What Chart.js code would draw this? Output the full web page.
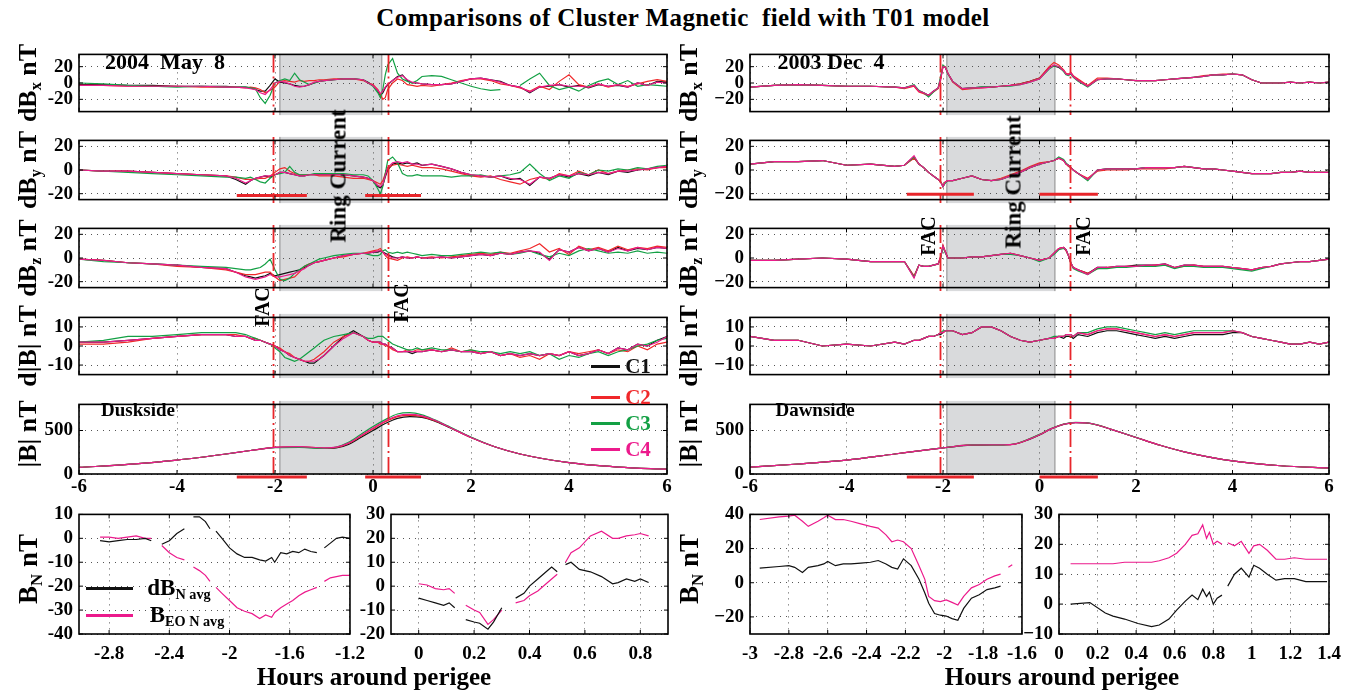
<!DOCTYPE html>
<html>
<head>
<meta charset="utf-8">
<script src="https://cdn.jsdelivr.net/npm/chart.js@4.4.1/dist/chart.umd.min.js"></script>
<style>
  body { margin: 0; background: #fff; width: 1359px; height: 692px; position: relative; overflow: hidden;
         font-family: "Liberation Serif", "Times New Roman", serif; font-weight: bold; color: #000; }
  .t { position: absolute; white-space: pre; line-height: 1; transform: translate(-50%, -50%); }
  .r { position: absolute; white-space: pre; line-height: 1; transform: translate(-50%, -50%) rotate(-90deg); }
  .box { position: absolute; }
  .leg { position: absolute; height: 3px; }
  sub { font-size: 62%; vertical-align: -0.3em; line-height: 0; }
</style>
</head>
<body>
<script>
// ---------- Duskside (2004 May 8), hours around perigee ----------
const duskTime = [-6,-5.5,-5,-4.5,-4,-3.5,-3, -2.8,-2.6,
  -2.5,-2.4,-2.3,-2.2,-2.1,-2,-1.9,-1.8,-1.7,-1.6,-1.5,-1.4,-1.3,-1.2,-1.1,-1,
  -0.8,-0.6,-0.4,-0.2, -0.1,0,0.1,0.15,0.2,0.25,0.3, 0.4,0.5,0.6,0.7,0.8,0.9,1,
  1.2,1.4,1.6,1.8,2,2.2,2.4,2.6,2.8,3,3.2,3.4,3.6,3.8,4,4.2,4.4,4.6,4.8,5,5.2,5.4,5.6,5.8,6];

const duskBxC1 = [-2,-2,-3,-3,-4,-4,-4, -5,-5, -6,-8,-10,-10,-3,5,1,0,-1,-3,-4,-4,-2,0,2,3, 4,5,5,4, 1,-3,-10,-15,-12,-6,-2, 3,8,10,3,0,0,-1,
  -2,-2,-1,2,5,6,4,2,-3,-5,-12,-5,-4,-2,-5,-3,-6,-2,-4,-3,-5,0,-3,2,1];
const duskBxC2 = [-3,-3,-4,-4,-4,-5,-5, -5,-6, -5,-6,-8,-12,-9,-5,2,3,2,1,3,2,3,3,4,4, 5,5,5,3, 0,-2,-8,-14,-20,-18,-8, 0,5,3,-2,-3,-4,-3,
  -4,-2,0,3,5,5,3,-1,-3,-6,-10,-4,-8,2,10,-2,-5,-1,-5,-2,-4,-1,2,4,2];
const duskBxC3 = [0,-1,-3,-4,-5,-4,-5, -5,-5, -6,-7,-18,-25,-15,0,3,5,3,12,4,1,-2,0,2,3, 4,5,5,4, 0,-4,-12,-18,-8,10,22, 30,12,5,2,0,3,8,
  9,8,4,0,-4,-7,-9,-8,null,-3,5,12,-3,-8,-5,-10,-3,2,5,-2,3,-4,-2,-3,-4];
const duskBxC4 = [-3,-3,-4,-4,-4,-4,-5, -5,-6, -7,-8,-12,-14,-8,0,2,1,-1,-4,-5,-4,-2,1,2,3, 4,5,5,4, 0,-3,-9,-13,-10,-5,-1, 3,7,9,4,1,0,-1,
  -2,-2,-1,2,5,6,4,1,-3,-5,-11,-5,-3,-2,-4,-4,-5,-1,-4,-2,-5,0,-3,1,0];

const duskByC1 = [0,-1,-1,-2,-3,-4,-5, -8,-12, -9,-7,-6,-5,-6,-4,-2,-2,-3,-4,-5,-5,-4,-4,-4,-4, -4,-4,-5,-6, -7,-9,-14,-15,-13,-6,0, 5,6,5,6,5,6,4,
  5,3,1,-2,-4,-5,-6,-5,-8,-7,-13,-6,-7,-4,-6,-3,-5,-2,-4,-1,-2,0,1,2,3];
const duskByC2 = [0,-1,-1,-2,-3,-4,-5, -6,-8, -8,-8,-7,-7,-5,-2,1,2,-1,-3,-4,-4,-4,-4,-5,-5, -5,-6,-7,-7, -8,-9,-11,-12,-9,-3,2, 4,5,4,3,4,3,2,
  2,1,-1,-3,-5,-6,-5,-8,-10,-12,-8,-6,-8,-3,-5,-1,-4,0,-3,-1,0,1,0,2,2];
const duskByC3 = [0,-1,-2,-3,-4,-5,-6, -6,-7, -6,-8,-10,-11,-7,-4,-3,-2,3,-2,-4,-4,-4,-3,-3,-3, -3,-3,-4,-4, -5,-9,-16,-20,-14,-3,8, 11,6,-3,-5,-5,-4,-5,
  -5,-5,-6,-5,-5,-4,-6,-5,-4,-2,5,-3,-9,-5,-7,-2,-4,0,-1,1,0,2,1,3,4];
const duskByC4 = [0,-1,-1,-2,-3,-4,-5, -7,-11, -9,-7,-6,-5,-5,-4,-2,-2,-3,-4,-5,-5,-4,-4,-4,-4, -4,-4,-5,-6, -7,-9,-13,-14,-12,-5,2, 6,7,6,7,5,5,4,
  5,3,1,-2,-4,-5,-6,-5,-7,-8,-12,-6,-7,-4,-5,-3,-4,-2,-3,-1,-1,0,1,2,3];

const duskBzC1 = [-1,-2,-4,-5,-6,-8,-9, -12,-15, -16,-17,-16,-15,-13,-15,-14,-13,-12,-11,-10,-8,-6,-4,-3,-2, 0,2,3,4, 4,5,5,6,5,4,3, 1,0,1,0,0,1,0,
  0,1,0,1,2,3,2,4,3,5,6,4,-1,7,5,9,6,8,5,9,6,8,7,9,8];
const duskBzC2 = [-1,-2,-4,-5,-7,-8,-10, -12,-14, -14,-14,-13,-12,-12,-16,-19,-18,-17,-16,-12,-7,-5,-4,-3,-2, 0,1,3,4, 5,6,7,8,5,2,0, -1,-2,0,1,0,1,0,
  1,0,1,2,3,4,3,5,4,6,8,12,5,8,3,10,7,9,6,10,7,9,8,10,9];
const duskBzC3 = [-1,-3,-4,-5,-6,-7,-8, -9,-10, -10,-9,-8,-5,-1,-10,-18,-19,-17,-13,-10,-7,-5,-3,-1,0, 2,3,4,4, 3,2,2,3,6,7,5, 4,5,4,5,4,3,2,
  3,2,2,3,4,5,4,5,3,4,6,3,1,4,2,6,8,6,4,5,4,6,4,5,4];
const duskBzC4 = [-1,-2,-4,-5,-6,-8,-9, -12,-16, -17,-18,-17,-16,-14,-16,-16,-15,-14,-13,-11,-9,-6,-4,-3,-2, 0,2,3,4, 4,5,6,6,5,3,2, 0,0,1,0,0,1,0,
  0,1,0,1,2,3,2,4,3,5,6,5,-2,7,5,9,6,8,5,8,6,9,7,9,8];

const duskBmC1 = [2,2,3,4,5,6,6, 5,5, 4,3,3,2,1,0,-2,-3,-5,-6,-7,-8,-9,-9,-7,-5, 0,5,8,5, 3,2,2,2,1,1,0, -1,-3,-3,-3,-4,-3,-3,
  -2,-3,-2,-3,-3,-4,-3,-5,-4,-5,-4,-5,-4,-5,-3,-5,-4,-2,-4,-1,-2,1,0,3,5];
const duskBmC2 = [1,1,2,4,5,6,6, 6,5, 4,4,3,2,1,0,-1,-3,-4,-6,-7,-8,-8,-7,-5,-3, 2,5,7,5, 3,2,2,1,1,0,0, -2,-3,-3,-2,-3,-2,-2,
  -2,-3,-1,-3,-2,-4,-3,-5,-4,-6,-5,-7,-4,-5,-3,-4,-3,-2,-4,-2,-3,0,-2,1,2];
const duskBmC3 = [2,3,5,5,6,7,7, 7,6, 5,4,3,2,1,-1,-3,-6,-7,-8,-7,-5,-3,-1,1,3, 5,6,7,5, 4,4,5,5,5,4,3, 1,0,-1,-2,-2,-1,-2,
  -1,-2,-2,-3,-2,-3,-3,-4,-3,-4,-3,-5,-4,-7,-5,-6,-4,-3,-5,-3,-2,0,1,3,4];
const duskBmC4 = [2,2,3,4,5,6,6, 5,5, 4,3,3,2,1,0,-2,-3,-5,-6,-7,-8,-8,-8,-7,-5, 0,4,7,5, 3,2,2,2,1,1,0, -1,-3,-3,-3,-3,-3,-3,
  -2,-3,-2,-3,-3,-4,-3,-5,-4,-5,-4,-5,-4,-5,-3,-5,-4,-2,-4,-1,-2,1,0,2,5];

const totalTime = [-6,-5,-4,-3,-2.5,-2,-1.5,-1,-0.75,-0.5,-0.25,0,0.25,0.5,0.75,1,1.25,1.5,2,2.5,3,4,5,6];
const duskBtC1 = [75,110,160,230,270,305,310,295,300,340,420,500,580,640,660,650,610,550,420,310,230,130,80,55];
const duskBtC2 = [75,110,160,230,270,305,312,298,305,350,435,520,600,660,675,660,615,555,420,310,230,130,80,55];
const duskBtC3 = [75,110,160,230,270,302,305,295,310,365,455,545,625,690,705,680,625,560,425,310,230,130,80,55];
const duskBtC4 = [75,110,160,230,270,306,315,300,308,355,440,530,610,670,685,668,620,555,420,310,230,130,80,55];

// ---------- Dawnside (2003 Dec 4) ----------
const dawnTime = [-6,-5.5,-5,-4.5,-4,-3.5,-3, -2.8,-2.6, -2.5,-2.4,-2.3,-2.2,-2.1, -2.05,-2,-1.95,-1.9,
  -1.8,-1.6,-1.4,-1.2,-1,-0.8,-0.6,-0.4,-0.2,0, 0.2,0.3,0.4,0.5,0.55,0.6,0.65,0.7,0.8,
  1,1.2,1.4,1.6,1.8,2,2.2,2.4,2.6,2.8,3,3.2,3.4,3.6,3.8,4,4.2,4.4,4.6,4.8,5,5.2,5.4,5.6,5.8,6];

const dawnBxC1 = [-5,-3,-2,-3,-4,-4,-5, -6,-3, -10,-12,-15,-10,-6, 5,20,19,12, 2,-7,-6,-5,-5,-4,-3,-1,2,6, 19,21,19,15,11,10,12,8,3,
  -4,4,5,5,4,3,3,3,4,5,6,7,8,10,10,11,10,4,0,0,0,1,0,1,0,1];
const dawnBxC2 = [-5,-3,-2,-3,-4,-4,-5, -7,-4, -11,-13,-16,-11,-7, 3,21,20,12, 1,-8,-7,-6,-5,-4,-3,-1,2,6, 20,25,22,16,12,11,13,9,5,
  -3,6,6,5,4,3,3,3,4,5,6,7,9,10,11,11,10,4,0,0,0,1,0,1,0,1];
const dawnBxC3 = [-5,-3,-2,-3,-4,-4,-5, -6,-2, -9,-12,-17,-11,-6, 8,22,19,11, 2,-7,-6,-5,-5,-4,-4,-2,1,5, 17,21,20,14,10,9,11,7,2,
  -5,4,5,5,4,3,3,3,4,5,6,7,8,10,10,11,10,4,0,0,0,1,0,1,0,1];
const dawnBxC4 = [-5,-3,-2,-3,-4,-4,-5, -6,-3, -10,-12,-15,-10,-6, 5,20,19,12, 2,-7,-6,-6,-5,-4,-3,-2,1,5, 18,22,20,15,11,10,12,8,3,
  -4,4,5,5,4,3,3,3,4,5,6,7,8,10,10,11,10,4,0,0,0,1,0,1,0,1];

const dawnByC1 = [5,7,7,8,4,5,3, 4,11, 5,2,-2,-5,-8, -10,-14,-10,-9, -9,-7,-5,-8,-9,-8,-5,-2,2,5, 7,8,10,8,5,4,2,0,-3,
  -8,0,1,1,1,1,2,2,2,2,3,2,1,1,0,-1,-2,-3,-3,-3,-2,-2,-1,-2,-2,-2];
const dawnByC2 = [5,7,7,8,4,5,3, 4,10, 5,2,-2,-5,-8, -10,-13,-10,-9, -9,-7,-5,-8,-9,-7,-4,-1,3,6, 7,8,10,8,5,3,2,0,-3,
  -7,-1,0,0,0,1,1,1,1,2,3,2,1,1,0,-1,-2,-3,-3,-3,-2,-2,-1,-2,-2,-2];
const dawnByC3 = [5,7,7,8,4,5,3, 4,11, 5,2,-2,-5,-8, -10,-14,-11,-9, -9,-7,-5,-8,-9,-8,-5,-2,2,5, 7,8,11,9,6,4,2,0,-3,
  -9,0,1,1,1,1,2,2,2,2,3,2,1,1,0,-1,-2,-3,-3,-3,-2,-2,-1,-2,-2,-2];
const dawnByC4 = [5,7,7,8,4,5,3, 4,12, 5,2,-2,-5,-8, -10,-14,-10,-9, -9,-7,-5,-8,-9,-8,-5,-2,2,5, 7,8,10,8,5,4,2,0,-3,
  -8,0,1,1,1,1,2,2,2,2,3,2,1,1,0,-1,-2,-3,-3,-3,-2,-2,-1,-2,-2,-2];

const dawnBzC1 = [-2,-2,-1,0,-1,-3,-3, -3,-16, -6,-7,-7,-6,-5, 0,10,5,0, 0,0,1,1,2,3,4,2,0,-2, 0,4,8,9,7,2,-4,-8,-10,
  -13,-8,-8,-7,-7,-6,-6,-6,-5,-8,-6,-6,-7,-7,-7,-8,-9,-10,-8,-7,-5,-4,-3,-3,-2,-1];
const dawnBzC2 = [-2,-2,-1,0,-1,-3,-3, -3,-15, -6,-7,-7,-6,-5, 1,11,5,0, 0,0,1,1,2,3,4,2,0,-2, 0,4,8,9,6,2,-5,-8,-10,
  -13,-9,-8,-8,-7,-7,-7,-6,-6,-8,-7,-6,-7,-7,-7,-8,-9,-10,-8,-7,-5,-4,-3,-3,-2,-1];
const dawnBzC3 = [-2,-2,-1,0,-1,-3,-3, -3,-16, -6,-7,-7,-6,-5, 0,9,4,0, 0,0,1,1,2,3,3,2,0,-3, 0,3,7,8,7,2,-4,-9,-11,
  -14,-9,-9,-8,-8,-7,-7,-7,-6,-9,-7,-7,-8,-8,-8,-9,-10,-11,-9,-7,-5,-4,-3,-3,-2,-1];
const dawnBzC4 = [-2,-2,-1,0,-1,-3,-3, -3,-17, -6,-7,-7,-6,-5, 1,10,5,0, 0,0,1,1,2,3,4,2,0,-2, 0,4,8,9,7,2,-4,-8,-10,
  -14,-8,-8,-7,-7,-7,-6,-6,-5,-8,-6,-6,-7,-7,-7,-8,-9,-10,-8,-7,-5,-4,-3,-3,-2,-1];

const dawnBmC1 = [5,3,3,0,1,0,2, 1,3, 3,4,5,5,6, 6,7,8,8, 8,6,7,10,10,8,5,3,2,3, 4,4,5,4,5,5,5,4,6,
  5,7,8,8,7,6,5,4,5,4,5,6,6,6,6,7,7,5,4,3,2,1,1,2,1,2];
const dawnBmC2 = [5,3,3,0,1,0,2, 1,3, 3,4,5,5,6, 7,7,8,8, 8,6,7,10,10,8,5,3,2,3, 4,4,5,5,6,6,6,5,7,
  6,8,9,9,8,7,6,5,6,5,6,7,7,7,7,8,7,5,4,3,2,1,1,2,1,2];
const dawnBmC3 = [5,3,3,0,1,0,2, 1,3, 3,4,5,5,6, 7,8,8,8, 8,6,7,10,10,8,5,3,2,3, 4,5,5,5,6,6,6,5,7,
  7,9,10,10,9,8,7,6,7,6,7,8,8,8,8,8,7,5,4,3,2,1,1,2,1,2];
const dawnBmC4 = [5,3,3,0,1,0,2, 1,3, 3,4,5,5,6, 7,7,8,8, 8,6,7,10,10,8,5,3,2,3, 4,4,5,5,6,6,6,5,7,
  6,8,9,9,8,7,6,5,6,5,6,7,7,7,7,8,7,5,4,3,2,1,1,2,1,2];

const dawnBtC1 = [80,115,160,230,265,300,330,335,335,345,390,450,520,570,590,585,555,510,420,330,255,150,95,70];
const dawnBtC2 = [80,115,160,230,265,300,331,336,336,347,393,453,523,573,592,586,556,511,420,330,255,150,95,70];
const dawnBtC3 = [80,115,160,230,265,301,332,337,337,348,395,455,525,575,594,587,556,511,421,330,255,150,95,70];
const dawnBtC4 = [80,115,160,230,265,300,331,336,336,346,392,452,522,572,591,586,555,510,420,330,255,150,95,70];

// ---------- B_N averages (bottom row) ----------
const duskNTimeA = [-2.86,-2.8,-2.74,-2.68,-2.62,-2.56,-2.52,-2.49,-2.45,-2.4,-2.35,-2.3,-2.27,-2.24,-2.2,-2.16,-2.13,-2.11,
  -2.09,-2.05,-2,-1.95,-1.9,-1.85,-1.8,-1.76,-1.72,-1.7,-1.66,-1.62,-1.58,-1.54,-1.5,-1.46,-1.42,-1.4,-1.37,-1.33,-1.29,-1.25,-1.2];
const duskDbnA = [-1,-1.5,-1,-0.5,-0.5,0,-1,null,-2.5,-1,2,4,null,9,9,7,4,null,
  3,0,-4,-6.5,-8,-8,-9,-9.5,-8,-10,-6,-6.5,-5.5,-6,-4.5,-5.5,-6,null,-4,-2,0,0.5,0];
const duskBeoA = [0.5,0.5,0,0.5,1,0,0,null,-3,-6,-8,-9,null,-12,-13.5,-15.5,-18,null,
  -20.5,-23,-26,-29,-30.5,-31.5,-33.5,-32,-33,-31,-29,-27.5,-26,-24,-22.5,-21.5,-20.5,null,-18,-16.5,-16,-15.5,-15.5];

const duskNTimeB = [0,0.03,0.06,0.09,0.11,0.13,0.15,0.17,0.2,0.22,0.25,0.27,0.3,0.32,0.35,0.38,0.4,0.43,0.46,0.48,0.5,0.515,
  0.53,0.55,0.58,0.62,0.66,0.7,0.72,0.75,0.78,0.8,0.83];
const duskDbnB = [-5,-6,-7,-8,-7,-9,null,-14,-15,-15.5,-18,-15,-9,null,-5,-3,0,3,6,8,6,null,9,10,7,6,4,1,1.5,3,2,3,1.5];
const duskBeoB = [1,0.5,-1,-1.5,-1,-3,null,-8,-10,-11,-16,-14,-10,null,-7,-6,-4,-2,1,3,5,null,10,14,16,21,23,20,20,21,21.5,22,21];

const dawnNTimeA = [-2.95,-2.85,-2.8,-2.77,-2.73,-2.7,-2.65,-2.62,-2.6,-2.56,-2.52,-2.48,-2.43,-2.38,-2.34,-2.3,-2.27,-2.24,-2.21,
  -2.17,-2.13,-2.1,-2.08,-2.05,-2.02,-1.99,-1.96,-1.93,-1.9,-1.86,-1.82,-1.78,-1.74,-1.71,-1.69,-1.67,-1.65];
const dawnDbnA = [8.5,9.5,10,9,6,9,10,11,12.5,10,11,11,11.5,12,13,11,9,8,14,10,2,-6,-12,-18,-19,-19.5,-21,-22,-15,-9,-7,-4,-3,-2,null,null,null];
const dawnBeoA = [37,38.5,39,39.5,36,33,36,38,39.5,37,37,36,34.5,33,32,28,24,25,24,20,10,2,-8,-10.5,-11,-10,-11.5,-13,-8,-3,-1,2,4,5,null,9,10.5];

const dawnNTimeB = [0.06,0.16,0.24,0.28,0.34,0.41,0.48,0.52,0.57,0.61,0.655,0.69,0.72,0.745,0.765,0.78,0.8,0.82,0.845,0.86,
  0.875,0.91,0.945,0.985,1.01,1.04,1.08,1.125,1.17,1.22,1.28,1.39];
const dawnDbnB = [0,0.5,-3,-4,-5,-6.5,-7.5,-7,-5,-2,1,3,1.5,5,2.5,4,0,2,3,null,6,10,12,9,13,12,10,8,8.5,8.5,7.5,7.5];
const dawnBeoB = [13.5,13.5,13.5,13.5,14,14,14,14.5,15.5,17,20,23,23.5,26.5,22,24,20,21,20,null,20.5,19.5,21,17,19.5,20,18,15,15,15.5,15,15];

// event marks (hours): ring-current shading, FAC lines, FAC intervals
const duskShade = [-1.9, 0.18], duskFac = [-2.04, 0.3], duskFacBars = [[-2.78, -1.35], [-0.16, 0.98]];
const dawnShade = [-1.92, 0.32], dawnFac = [-2.07, 0.63], dawnFacBars = [[-2.75, -1.36], [0.0, 1.21]];

const hourTicks = [-6, -4, -2, 0, 2, 4, 6];
const COLORS = ['#111111', '#f0282a', '#13a044', '#ec1a8c'];
Chart.defaults.font.family = "'Liberation Serif', 'Times New Roman', serif";
Chart.defaults.font.weight = 'bold';
const FONT = { family: "'Liberation Serif', 'Times New Roman', serif", weight: 'bold', size: 19 };

function pts(t, v) { return t.map((x, i) => ({ x: x, y: v[i] })); }

function sats(t, arrs, smooth) {
  const drawOrder = [3, 2, 1, 0]; // C4 on top, as in the plot
  return arrs.map((v, i) => ({
    data: pts(t, v), borderColor: COLORS[i], borderWidth: 1.2, pointRadius: 0,
    spanGaps: false, order: drawOrder[i],
    cubicInterpolationMode: smooth ? 'monotone' : 'default', tension: 0
  }));
}

function fmt(v, minus) {
  let s = String(Math.round(v * 10) / 10);
  return minus ? s.replace('-', '\u2212') : s;
}

const marksPlugin = {
  id: 'marks',
  beforeDraw(chart, args, o) {
    if (!o.shade) return;
    const ctx = chart.ctx, a = chart.chartArea, xs = chart.scales.x;
    const x0 = xs.getPixelForValue(o.shade[0]), x1 = xs.getPixelForValue(o.shade[1]);
    const top = a.top - (o.extTop || 0), bot = a.bottom + (o.extBottom || 0);
    ctx.save();
    ctx.fillStyle = '#d9dadc';
    ctx.fillRect(x0, top, x1 - x0, bot - top);
    ctx.strokeStyle = '#8a8a8a';
    ctx.lineWidth = 1;
    ctx.beginPath();
    ctx.moveTo(x0, top); ctx.lineTo(x0, bot);
    ctx.moveTo(x1, top); ctx.lineTo(x1, bot);
    ctx.stroke();
    ctx.restore();
  },
  afterDraw(chart, args, o) {
    const ctx = chart.ctx, a = chart.chartArea, xs = chart.scales.x, ys = chart.scales.y;
    ctx.save();
    if (o.fac) {
      const top = a.top - (o.extTop || 0), bot = a.bottom + (o.extBottom || 0);
      ctx.strokeStyle = '#e8262b';
      ctx.lineWidth = 1.8;
      ctx.setLineDash([18, 4, 2, 4]);
      o.fac.forEach(h => {
        const px = Math.round(xs.getPixelForValue(h)) + 0.5;
        ctx.beginPath(); ctx.moveTo(px, top); ctx.lineTo(px, bot); ctx.stroke();
      });
      ctx.setLineDash([]);
    }
    if (o.bars) {
      const py = o.barY !== undefined ? ys.getPixelForValue(o.barY) : a.bottom + 3;
      ctx.strokeStyle = '#e8262b';
      ctx.lineWidth = 3;
      o.bars.forEach(b => {
        ctx.beginPath();
        ctx.moveTo(xs.getPixelForValue(b[0]), py);
        ctx.lineTo(xs.getPixelForValue(b[1]), py);
        ctx.stroke();
      });
    }
    ctx.restore();
  }
};

const framePlugin = {
  id: 'frame',
  afterDraw(chart) {
    const ctx = chart.ctx, a = chart.chartArea, xs = chart.scales.x, ys = chart.scales.y;
    ctx.save();
    ctx.strokeStyle = '#000';
    ctx.lineWidth = 1;
    ctx.beginPath();
    xs.ticks.forEach(t => {
      const px = xs.getPixelForValue(t.value);
      ctx.moveTo(px, a.bottom); ctx.lineTo(px, a.bottom - 4);
      ctx.moveTo(px, a.top); ctx.lineTo(px, a.top + 4);
    });
    ys.ticks.forEach(t => {
      const py = ys.getPixelForValue(t.value);
      ctx.moveTo(a.left, py); ctx.lineTo(a.left + 4, py);
      ctx.moveTo(a.right, py); ctx.lineTo(a.right - 4, py);
    });
    ctx.stroke();
    ctx.lineWidth = 1.6;
    ctx.strokeRect(a.left, a.top, a.right - a.left, a.bottom - a.top);
    ctx.restore();
  }
};

function panel(box, cfg) {
  const x = box[0], y = box[1], w = box[2], h = box[3];
  const YW = 62, PT = 6, PR = cfg.pr || 12;
  const XH = cfg.xLabels ? 30 : 0;
  const PB = cfg.xLabels ? 0 : 6;
  const div = document.createElement('div');
  div.className = 'box';
  div.style.left = (x - YW) + 'px';
  div.style.top = (y - PT) + 'px';
  div.style.width = (w + YW + PR) + 'px';
  div.style.height = (h + PT + XH + PB) + 'px';
  const cv = document.createElement('canvas');
  div.appendChild(cv);
  document.body.appendChild(div);
  const gridOpts = { color: '#555', lineWidth: 1, drawTicks: false };
  return new Chart(cv, {
    type: 'line',
    data: { datasets: cfg.datasets },
    options: {
      responsive: true, maintainAspectRatio: false, animation: false, events: [],
      layout: { padding: { left: 0, top: PT, right: PR, bottom: PB }, autoPadding: false },
      scales: {
        x: {
          type: 'linear', min: cfg.xr[0], max: cfg.xr[1],
          afterBuildTicks: s => { s.ticks = cfg.xt.map(v => ({ value: v })); },
          afterFit: s => { s.height = XH; },
          ticks: { display: !!cfg.xLabels, autoSkip: false, maxRotation: 0, padding: cfg.xPad || 3,
                   color: '#000', font: FONT, callback: v => fmt(v, false) },
          grid: gridOpts,
          border: { display: false, dash: [1, 5] }
        },
        y: {
          type: 'linear', min: cfg.yr[0], max: cfg.yr[1],
          afterBuildTicks: s => { s.ticks = cfg.yt.map(v => ({ value: v })); },
          afterFit: s => { s.width = YW; },
          ticks: { autoSkip: false, padding: 6, color: '#000', font: FONT, callback: v => fmt(v, cfg.minus) },
          grid: gridOpts,
          border: { display: false, dash: [1, 5] }
        }
      },
      plugins: { legend: { display: false }, tooltip: { enabled: false }, marks: cfg.marks || {} }
    },
    plugins: [marksPlugin, framePlugin]
  });
}

function txt(html, x, y, size, cls, color) {
  const d = document.createElement('div');
  d.className = cls || 't';
  d.style.left = x + 'px';
  d.style.top = y + 'px';
  d.style.fontSize = size + 'px';
  if (color) d.style.color = color;
  d.innerHTML = html;
  document.body.appendChild(d);
  return d;
}

function legLine(x, y, w, color) {
  const d = document.createElement('div');
  d.className = 'leg';
  d.style.left = x + 'px';
  d.style.top = (y - 1.5) + 'px';
  d.style.width = w + 'px';
  d.style.background = color;
  document.body.appendChild(d);
}

// ---------- layout ----------
const rows = [[43, 80], [129, 82], [217, 82], [306, 80], [393, 81]];
const cols = [
  { x: 79, w: 588, t: duskTime, minus: false, shade: duskShade, fac: duskFac, bars: duskFacBars, barY: -21.5,
    series: [[duskBxC1, duskBxC2, duskBxC3, duskBxC4], [duskByC1, duskByC2, duskByC3, duskByC4],
             [duskBzC1, duskBzC2, duskBzC3, duskBzC4], [duskBmC1, duskBmC2, duskBmC3, duskBmC4]],
    total: [duskBtC1, duskBtC2, duskBtC3, duskBtC4] },
  { x: 750, w: 579, t: dawnTime, minus: true, shade: dawnShade, fac: dawnFac, bars: dawnFacBars, barY: -20.5,
    series: [[dawnBxC1, dawnBxC2, dawnBxC3, dawnBxC4], [dawnByC1, dawnByC2, dawnByC3, dawnByC4],
             [dawnBzC1, dawnBzC2, dawnBzC3, dawnBzC4], [dawnBmC1, dawnBmC2, dawnBmC3, dawnBmC4]],
    total: [dawnBtC1, dawnBtC2, dawnBtC3, dawnBtC4] }
];
const yRanges = [[-35, 35], [-25, 25], [-25, 25], [-15, 15]];
const yTicks = [[-20, 0, 20], [-20, 0, 20], [-20, 0, 20], [-10, 0, 10]];

cols.forEach(c => {
  for (let r = 0; r < 4; r++) {
    panel([c.x, rows[r][0], c.w, rows[r][1]], {
      datasets: sats(c.t, c.series[r], false),
      xr: [-6, 6], xt: hourTicks, yr: yRanges[r], yt: yTicks[r], minus: c.minus,
      marks: { shade: c.shade, fac: c.fac, extTop: r === 0 ? 0 : 3.5, extBottom: 3.5,
               bars: r === 1 ? c.bars : undefined, barY: c.barY }
    });
  }
  panel([c.x, rows[4][0], c.w, rows[4][1]], {
    datasets: sats(totalTime, c.total, true),
    xr: [-6, 6], xt: hourTicks, yr: [0, 800], yt: [0, 500], xLabels: true, xPad: 2, minus: c.minus,
    marks: { shade: c.shade, fac: c.fac, extTop: 3.5, extBottom: 0, bars: c.bars }
  });
});

function bnSets(t, dbn, beo) {
  return [
    { data: pts(t, beo), borderColor: COLORS[3], borderWidth: 1.2, pointRadius: 0, spanGaps: false, order: 1 },
    { data: pts(t, dbn), borderColor: COLORS[0], borderWidth: 1.2, pointRadius: 0, spanGaps: false, order: 0 }
  ];
}
panel([79, 503, 273, 131], { datasets: bnSets(duskNTimeA, duskDbnA, duskBeoA), xr: [-3, -1.2],
  xt: [-2.8, -2.4, -2, -1.6, -1.2], yr: [-40, 10], yt: [-40, -30, -20, -10, 0, 10], xLabels: true, xPad: 9, pr: 22 });
panel([391, 503, 277, 131], { datasets: bnSets(duskNTimeB, duskDbnB, duskBeoB), xr: [-0.1, 0.9],
  xt: [0, 0.2, 0.4, 0.6, 0.8], yr: [-20, 30], yt: [-20, -10, 0, 10, 20, 30], xLabels: true, xPad: 9, pr: 12 });
panel([750, 503, 274, 131], { datasets: bnSets(dawnNTimeA, dawnDbnA, dawnBeoA), xr: [-3, -1.6],
  xt: [-3, -2.8, -2.6, -2.4, -2.2, -2, -1.8, -1.6], yr: [-30, 40], yt: [-20, 0, 20, 40], xLabels: true, xPad: 9, pr: 22, minus: true });
panel([1059, 503, 270, 131], { datasets: bnSets(dawnNTimeB, dawnDbnB, dawnBeoB), xr: [0, 1.4],
  xt: [0, 0.2, 0.4, 0.6, 0.8, 1, 1.2, 1.4], yr: [-10, 30], yt: [-10, 0, 10, 20, 30], xLabels: true, xPad: 9, pr: 22, minus: true });

// ---------- text ----------
txt('Comparisons of Cluster Magnetic  field with T01 model', 683, 17, 25).style.letterSpacing = '0.4px';
const yLabels = ['dB<sub>x</sub> nT', 'dB<sub>y</sub> nT', 'dB<sub>z</sub> nT', 'd|B| nT', '|B| nT'];
rows.forEach((r, i) => {
  txt(yLabels[i], 28, r[0] + r[1] / 2, 26, 'r');
  txt(yLabels[i], 689, r[0] + r[1] / 2, 26, 'r');
});
txt('B<sub>N</sub> nT', 28, 569, 27, 'r');
txt('B<sub>N</sub> nT', 689, 569, 27, 'r');
txt('Hours around perigee', 374, 676, 25);
txt('Hours around perigee', 1062, 676, 25);

txt('2004  May  8', 165, 62, 22);
txt('2003 Dec  4', 831, 62, 22);
txt('Duskside', 138, 409, 19);
txt('Dawnside', 815, 409, 19);
txt('Ring Current', 338, 176, 23, 'r');
txt('Ring Current', 1013, 182, 23, 'r');
txt('FAC', 262, 307, 20, 'r');
txt('FAC', 401, 303, 20, 'r');
txt('FAC', 928, 236, 20, 'r');
txt('FAC', 1083, 236, 20, 'r');

[['C1', 366], ['C2', 397], ['C3', 423], ['C4', 449]].forEach((c, i) => {
  legLine(591, c[1], 29, COLORS[i]);
  txt(c[0], 638, c[1], 21, 't', COLORS[i]);
});

legLine(86, 588, 47, COLORS[0]);
legLine(86, 615, 47, COLORS[3]);
txt('dB<sub>N avg</sub>', 179, 587, 23);
txt('B<sub>EO N avg</sub>', 187, 614, 23);
</script>
</body>
</html>
